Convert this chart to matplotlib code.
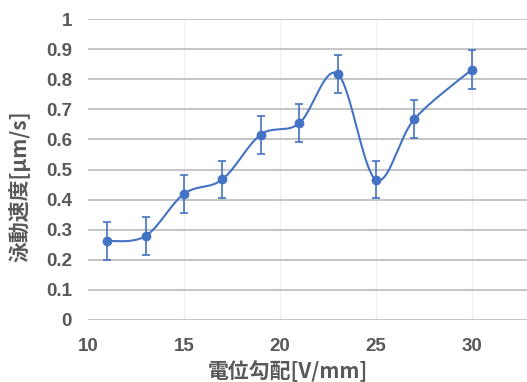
import numpy as np
import matplotlib
matplotlib.use("Agg")
import matplotlib.pyplot as plt

x_vals = [11, 13, 15, 17, 19, 21, 23, 25, 27, 30]
y_vals = [0.262, 0.279, 0.419, 0.467, 0.616, 0.653, 0.818, 0.466, 0.667, 0.832]
y_err = [0.063, 0.063, 0.064, 0.062, 0.063, 0.063, 0.064, 0.062, 0.063, 0.064]
x_ticks = [10, 15, 20, 25, 30]
y_ticks = [0, 0.1, 0.2, 0.3, 0.4, 0.5, 0.6, 0.7, 0.8, 0.9, 1]
y_ticklabels = ["0", "0.1", "0.2", "0.3", "0.4", "0.5", "0.6", "0.7", "0.8", "0.9", "1"]
x_label = "電位勾配[V/mm]"
y_label = "泳動速度[μm/s]"

color = "#4472C4"
gray = "#595959"
cjk = ["Noto Sans CJK JP", "DejaVu Sans"]
latin = ["Liberation Sans", "DejaVu Sans"]

fig = plt.figure(figsize=(5.27, 3.82), dpi=100)
ax = fig.add_axes([88/527, 1 - 320/382, 1 - 88/527, 301/382])
ax.set_xlim(10, 10 + (527 - 89) / 19.15)
ax.set_ylim(0, 1)

# Excel-style smoothed line (Catmull-Rom / Bezier) computed in display space
fig.canvas.draw()
pts = ax.transData.transform(np.column_stack([x_vals, y_vals]))
n = len(pts)
curve = []
for i in range(n - 1):
    p0 = pts[i - 1] if i > 0 else pts[i]
    p1 = pts[i]
    p2 = pts[i + 1]
    p3 = pts[i + 2] if i + 2 < n else pts[i + 1]
    c1 = p1 + (p2 - p0) / 6
    c2 = p2 - (p3 - p1) / 6
    t = np.linspace(0, 1, 40)[:, None]
    seg = ((1 - t) ** 3) * p1 + 3 * ((1 - t) ** 2) * t * c1 + 3 * (1 - t) * t ** 2 * c2 + t ** 3 * p2
    curve.append(seg if i == 0 else seg[1:])
curve = np.vstack(curve)
curve_data = ax.transData.inverted().transform(curve)
ax.plot(curve_data[:, 0], curve_data[:, 1], color=color, lw=1.5, zorder=3)

ax.errorbar(x_vals, y_vals, yerr=y_err, fmt="o", color=color, ms=6,
            ecolor=color, elinewidth=1.2, capsize=3, capthick=1.2, zorder=4)

# grid
for yt in y_ticks:
    ax.axhline(yt, color="#c0c0c0", lw=1.3, zorder=1)
for xt in x_ticks[1:]:
    ax.axvline(xt, color="#efefef", lw=0.9, zorder=0)

for s in ax.spines.values():
    s.set_visible(False)
ax.tick_params(length=0)
ax.set_xticks(x_ticks)
ax.set_xticklabels([str(v) for v in x_ticks], fontsize=13.5, fontweight="bold",
                   color=gray, family=latin)
ax.set_yticks(y_ticks)
ax.set_yticklabels(y_ticklabels, fontsize=13.5, fontweight="bold", color=gray, family=latin)
ax.tick_params(axis="x", pad=13)
ax.tick_params(axis="y", pad=11.5)

fig.text(208/527, 1 - 371/382, x_label, fontsize=15, fontweight="bold", color=gray,
         family=cjk, ha="left", va="center")
fig.text(20/527, 1 - 186/382, y_label, fontsize=15, fontweight="bold", color=gray,
         family=cjk, ha="center", va="center", rotation=90)

fig.savefig("out.png", dpi=100)
